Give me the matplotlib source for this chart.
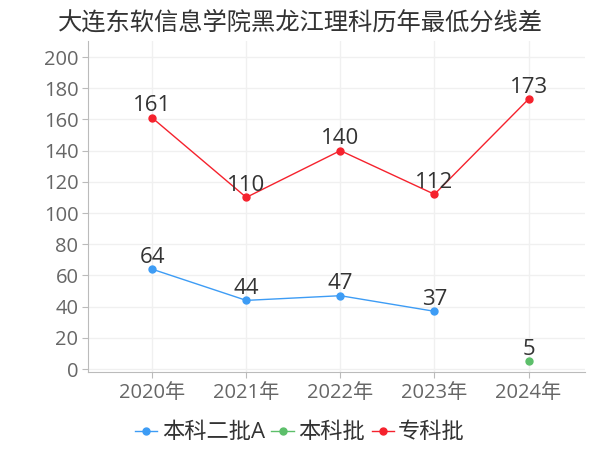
import matplotlib
matplotlib.use("Agg")
import matplotlib.pyplot as plt

plt.rcParams['font.family'] = ['Open Sans', 'Noto Sans CJK SC', 'DejaVu Sans']

years = ['2020年', '2021年', '2022年', '2023年', '2024年']
benke2a = [64, 44, 47, 37]
benke = [5]
zhuanke = [161, 110, 140, 112, 173]

series = [
    ('本科二批A', [0, 1, 2, 3], benke2a, '#3d9cf5'),
    ('本科批', [4], benke, '#5cbf6a'),
    ('专科批', [0, 1, 2, 3, 4], zhuanke, '#f5222d'),
]

fig = plt.figure(figsize=(6, 4.5), dpi=100)
ax = fig.add_axes([0.147, 0.173, 0.828, 0.735])

for name, xs, ys, c in series:
    ax.plot(xs, ys, color=c, lw=1, marker='o', ms=5, label=name)
    for x, y in zip(xs, ys):
        ax.annotate(str(y), (x, y), xytext=(0, 1), textcoords='offset points',
                    ha='center', va='bottom', fontsize=16, color='#333333')

ax.set_xlim(-0.68, 4.6)
ax.set_ylim(-2, 210)
ax.set_yticks(range(0, 201, 20))
ax.set_xticks(range(len(years)))
ax.set_xticklabels(years)
ax.grid(True, color='#f0f0f0', lw=1)
ax.set_axisbelow(True)
for s in ['top', 'right']:
    ax.spines[s].set_visible(False)
for s in ['left', 'bottom']:
    ax.spines[s].set_color('#bbbbbb')
ax.tick_params(axis='both', colors='#bbbbbb', labelcolor='#666666', labelsize=14.5, length=4)
ax.tick_params(axis='x', pad=4)
ax.tick_params(axis='y', pad=3)

fig.suptitle('大连东软信息学院黑龙江理科历年最低分线差', x=0.5, y=0.975, fontsize=17.5, color='#333333')
fig.legend(loc='lower center', bbox_to_anchor=(0.5, -0.03), ncol=3, frameon=False,
           fontsize=16, handlelength=1.0, handletextpad=0.2, columnspacing=0.3,
           labelcolor='#333333')

fig.savefig('out.png')
